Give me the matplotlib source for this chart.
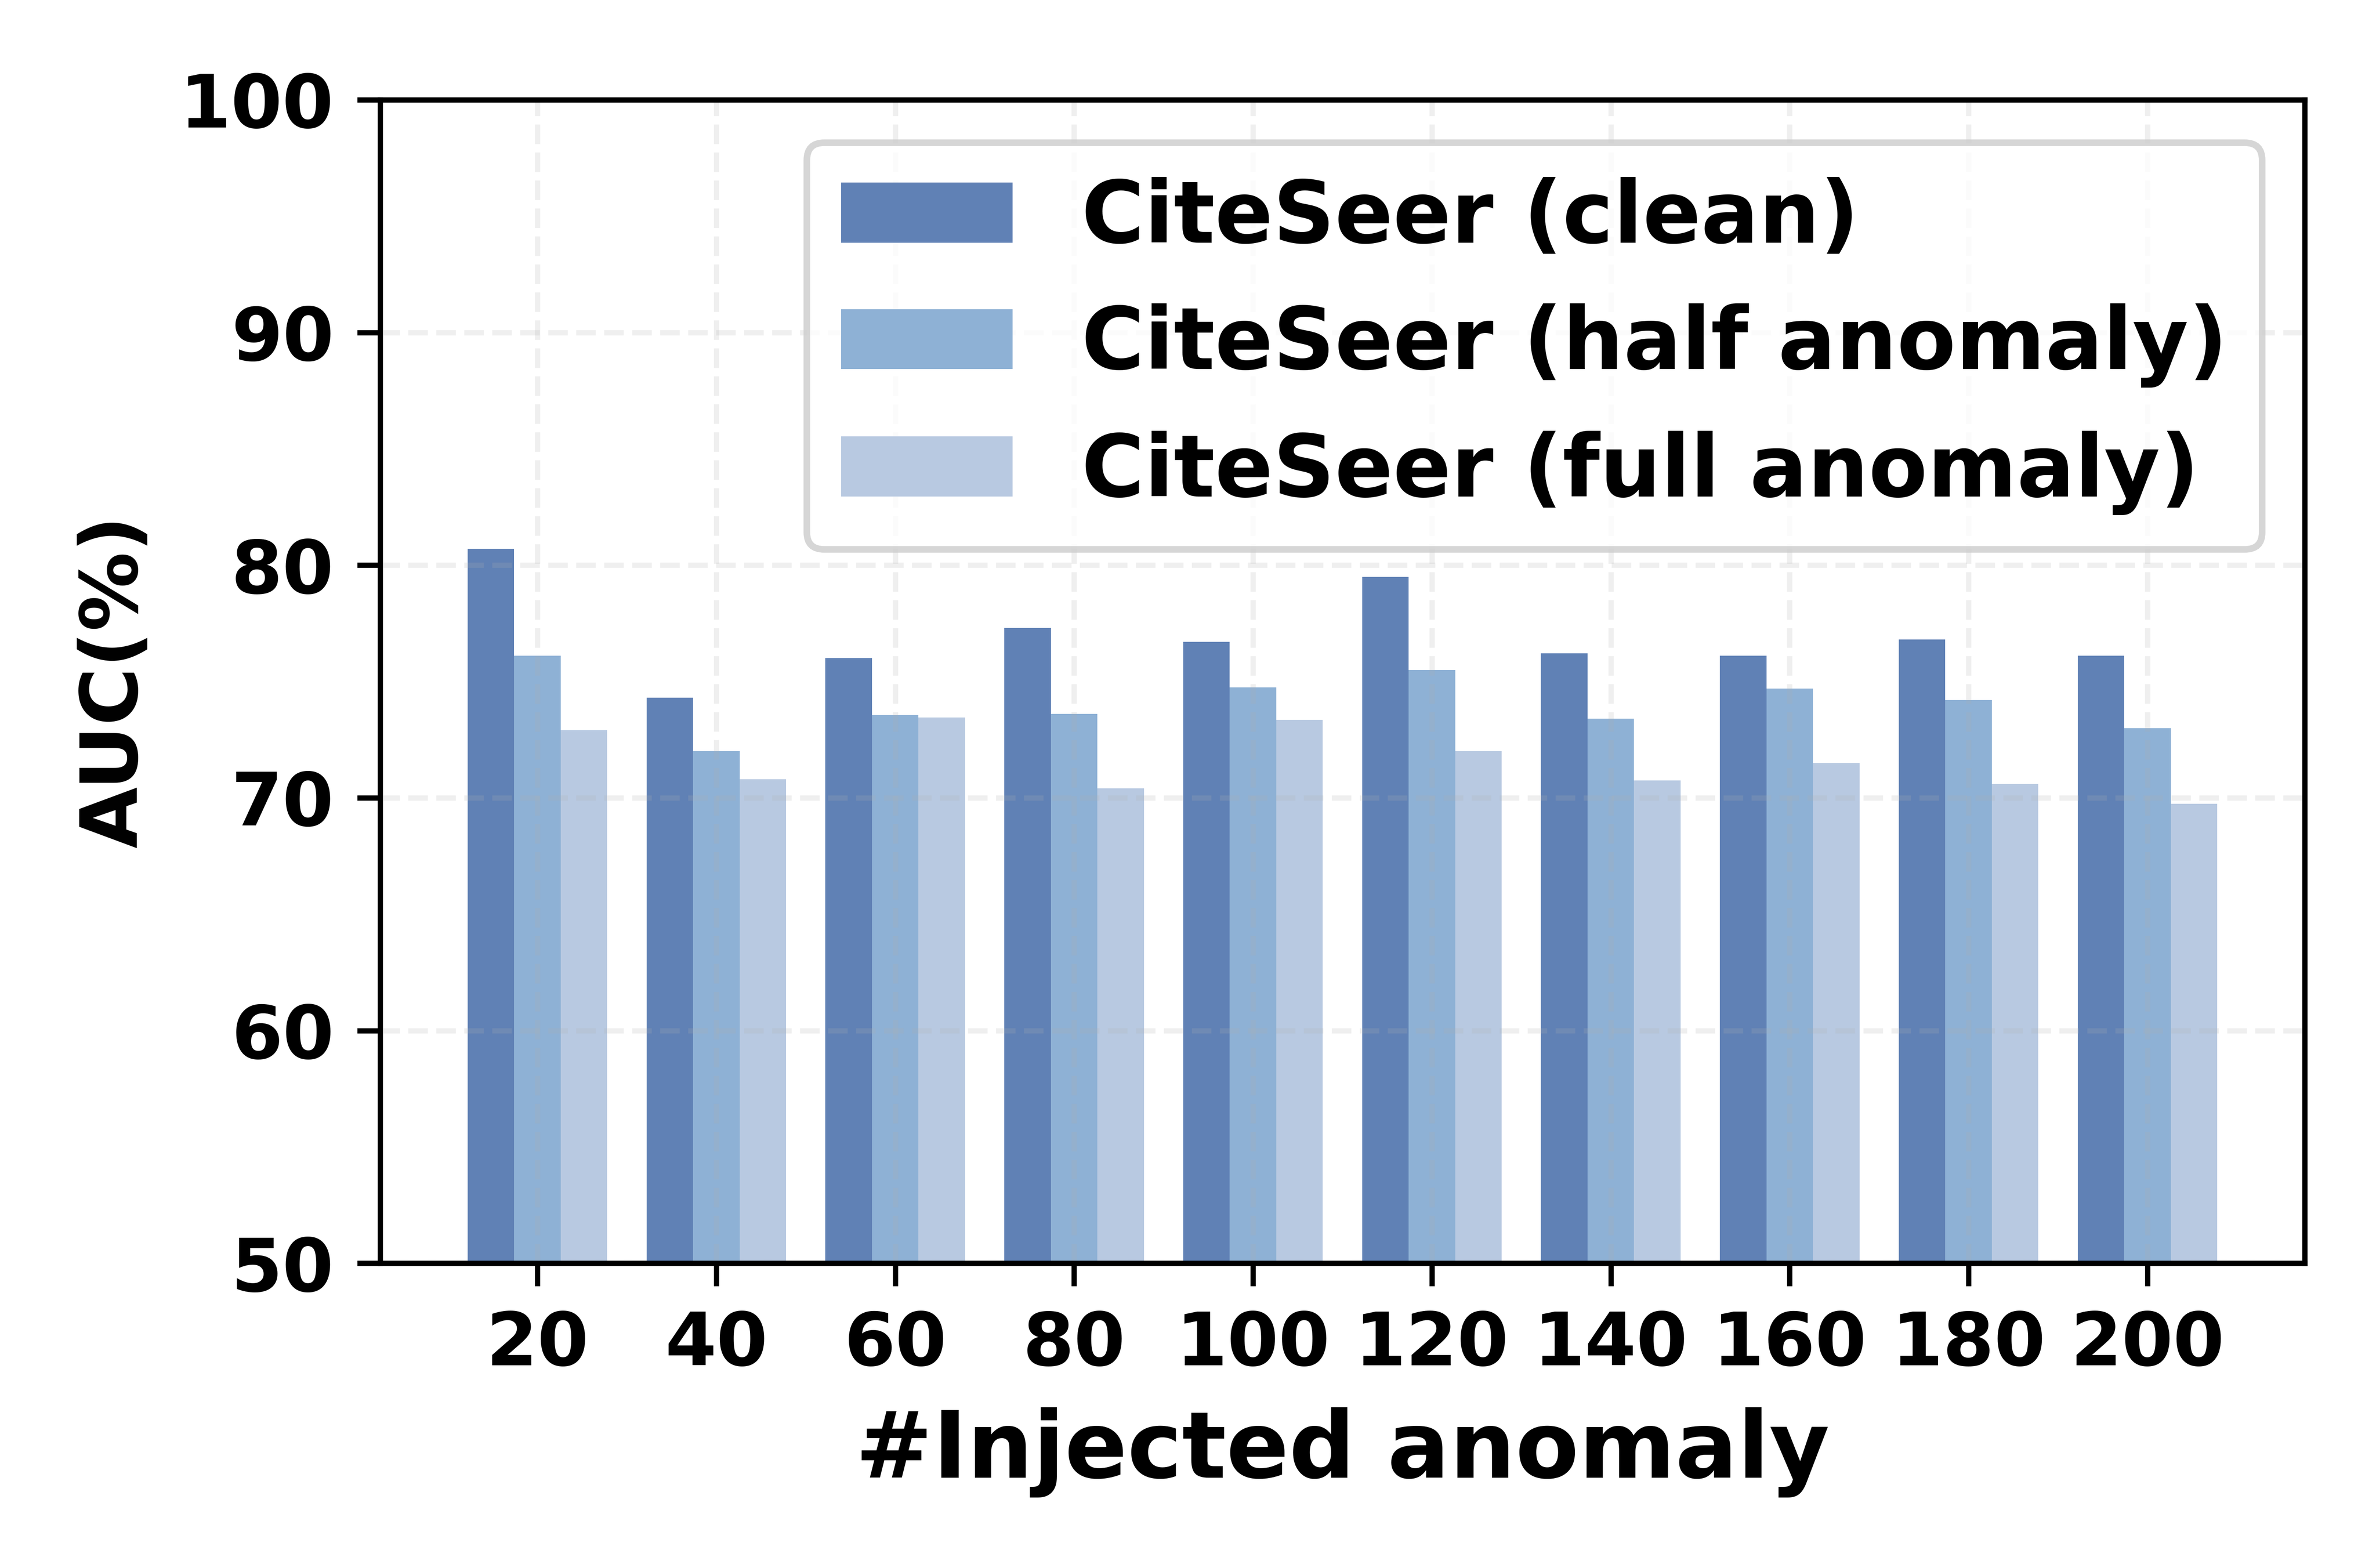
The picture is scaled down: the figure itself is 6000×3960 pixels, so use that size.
# Grouped bar chart: AUC on CiteSeer vs number of injected anomalies
import numpy as np
from matplotlib import pyplot as plt
from matplotlib import rcParams as rcp

rcp['font.family'] = 'DejaVu Sans'
rcp['font.weight'] = 'bold'

# ------------------------------------------------------------------------------
# Data (AUC in %)
# ------------------------------------------------------------------------------

n_injected = [20, 40, 60, 80, 100, 120, 140, 160, 180, 200]

auc_clean = [80.7, 74.3, 76.0, 77.3, 76.7, 79.5, 76.2, 76.1, 76.8, 76.1]
auc_half = [76.1, 72.0, 73.55, 73.6, 74.75, 75.5, 73.4, 74.7, 74.2, 73.0]
auc_full = [72.9, 70.8, 73.45, 70.4, 73.35, 72.0, 70.75, 71.5, 70.6, 69.75]

labels = ['CiteSeer (clean)', 'CiteSeer (half anomaly)', 'CiteSeer (full anomaly)']
colors = ['#6081b5', '#8eb1d5', '#b8c9e1']

# ------------------------------------------------------------------------------
# Plot
# ------------------------------------------------------------------------------

x = np.arange(len(n_injected))
w = 0.26

fig = plt.figure(figsize=(5, 3.3))
ax = fig.add_axes([0.16, 0.1944, 0.81, 0.7420])

ax.bar(x - w, auc_clean, w, color=colors[0], label=labels[0])
ax.bar(x, auc_half, w, color=colors[1], label=labels[1])
ax.bar(x + w, auc_full, w, color=colors[2], label=labels[2])

ax.set_ylim(50, 100)
ax.set_yticks([50, 60, 70, 80, 90, 100])
ax.set_xticks(x)
ax.set_xticklabels([str(v) for v in n_injected])
ax.tick_params(labelsize=11.2)

ax.grid(linestyle='--', alpha=0.2)

ax.set_xlabel('#Injected anomaly', fontsize=14, fontweight='bold')
ax.set_ylabel('AUC(%)', fontsize=12, fontweight='bold')

ax.legend(loc='upper right', fontsize=13)

plt.savefig('out.png', dpi=1200)
